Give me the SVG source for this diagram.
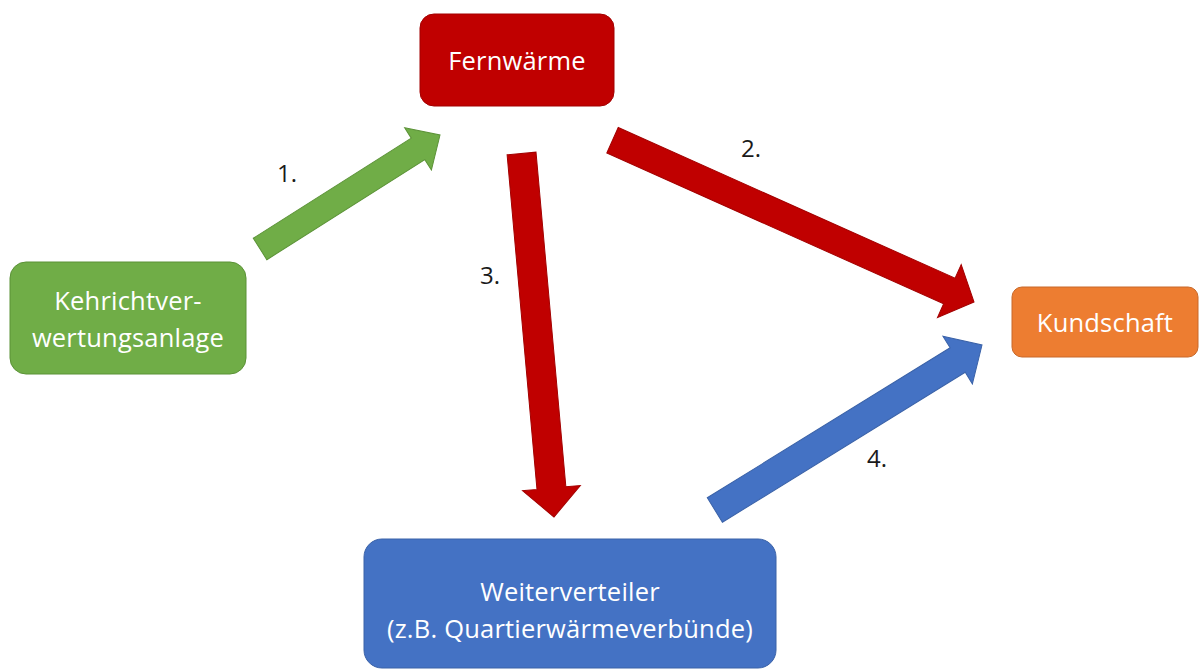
<svg xmlns="http://www.w3.org/2000/svg" width="1202" height="671" viewBox="0 0 1202 671">
<style>
.nt{font-family:"Open Sans","Noto Sans","Liberation Sans",sans-serif;font-size:25.5px;letter-spacing:0.2px;fill:#ffffff;text-anchor:middle}
.lb{font-family:"Open Sans","Noto Sans","Liberation Sans",sans-serif;font-size:24px;fill:#1a1a1a;text-anchor:middle}
.red{fill:#C00000;stroke:#A30000;stroke-width:1}
.green{fill:#70AD47;stroke:#5B9237;stroke-width:1}
.blue{fill:#4472C4;stroke:#3A62A8;stroke-width:1}
.orange{fill:#ED7D31;stroke:#C8692A;stroke-width:1}
</style>
<rect width="1202" height="671" fill="#ffffff"/>
<g id="connectors">
<g id="arrow1">
<polygon class="green" transform="translate(440,135) rotate(-32.35)" points="0,0 -26,25 -26,12.7 -213,12.7 -213,-12.7 -26,-12.7 -26,-25"/>
</g>
<g id="arrow2">
<polygon class="red" transform="translate(974,302) rotate(24.1)" points="0,0 -27,29 -27,14 -396,14 -396,-14 -27,-14 -27,-29"/>
</g>
<g id="arrow3">
<polygon class="red" transform="translate(554,517) rotate(84.9)" points="0,0 -29,29 -29,14.5 -365,14.5 -365,-14.5 -29,-14.5 -29,-29"/>
</g>
<g id="arrow4">
<polygon class="blue" transform="translate(982,345) rotate(-31.7)" points="0,0 -28.6,28 -28.6,14.4 -314,14.4 -314,-14.4 -28.6,-14.4 -28.6,-28"/>
</g>
<text class="lb" x="287" y="182">1.</text>
<text class="lb" x="751" y="157">2.</text>
<text class="lb" x="490" y="284">3.</text>
<text class="lb" x="877" y="467">4.</text>
</g>
<g id="fernwaerme">
<rect class="red" x="420" y="14" width="194" height="92" rx="14"/>
<text class="nt" x="517" y="70">Fernwärme</text>
</g>
<g id="kva">
<rect class="green" x="10" y="262" width="236" height="112" rx="16"/>
<text class="nt" x="128" y="310">Kehrichtver-</text>
<text class="nt" x="128" y="347">wertungsanlage</text>
</g>
<g id="kundschaft">
<rect class="orange" x="1012" y="287" width="186" height="70" rx="10"/>
<text class="nt" x="1105" y="332">Kundschaft</text>
</g>
<g id="weiterverteiler">
<rect class="blue" x="364" y="539" width="412" height="129" rx="18"/>
<text class="nt" x="570" y="601">Weiterverteiler</text>
<text class="nt" x="570" y="638">(z.B. Quartierwärmeverbünde)</text>
</g>
</svg>
